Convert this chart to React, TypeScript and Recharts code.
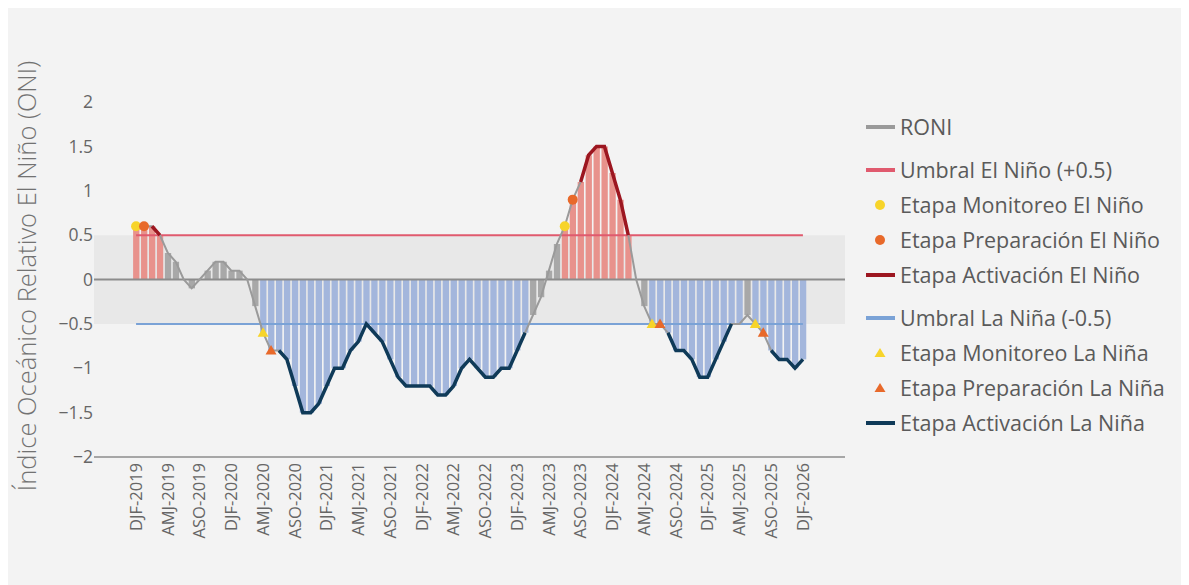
import React from "react";
import { ComposedChart, Bar, Line, XAxis, YAxis, ReferenceArea, ReferenceLine, Legend, Cell, Label } from "recharts";

const SEASONS = ["DJF", "JFM", "FMA", "MAM", "AMJ", "MJJ", "JJA", "JAS", "ASO", "SON", "OND", "NDJ"];
const YEARS = [2019, 2020, 2021, 2022, 2023, 2024, 2025, 2026];
const TICK_SEASONS = ["DJF", "AMJ", "ASO"];

const RONI = [
  0.6, 0.6, 0.6, 0.5, 0.3, 0.2, 0.0, -0.1, 0.0, 0.1, 0.2, 0.2,
  0.1, 0.1, 0.0, -0.3, -0.6, -0.8, -0.8, -0.9, -1.2, -1.5, -1.5, -1.4,
  -1.2, -1.0, -1.0, -0.8, -0.7, -0.5, -0.6, -0.7, -0.9, -1.1, -1.2, -1.2,
  -1.2, -1.2, -1.3, -1.3, -1.2, -1.0, -0.9, -1.0, -1.1, -1.1, -1.0, -1.0,
  -0.8, -0.6, -0.4, -0.2, 0.1, 0.4, 0.6, 0.9, 1.1, 1.4, 1.5, 1.5,
  1.2, 0.9, 0.5, 0.0, -0.3, -0.5, -0.5, -0.6, -0.8, -0.8, -0.9, -1.1,
  -1.1, -0.9, -0.7, -0.5, -0.5, -0.4, -0.5, -0.6, -0.8, -0.9, -0.9, -1.0,
  -0.9,
];

const UMBRAL_NINO = 0.5;
const UMBRAL_NINA = -0.5;

const MONITOREO_NINO = ["DJF-2019", "JJA-2023"];
const PREPARACION_NINO = ["JFM-2019", "JAS-2023"];
const ACTIVACION_NINO = [["FMA-2019", "MAM-2019"], ["ASO-2023", "FMA-2024"]];
const MONITOREO_NINA = ["AMJ-2020", "MJJ-2024", "JJA-2025"];
const PREPARACION_NINA = ["MJJ-2020", "JJA-2024", "JAS-2025"];
const ACTIVACION_NINA = [["JJA-2020", "JFM-2023"], ["JAS-2024", "MAM-2025"], ["ASO-2025", "DJF-2026"]];

const CATEGORIES = YEARS.flatMap((y) => SEASONS.map((s) => `${s}-${y}`)).slice(0, RONI.length);
const TICKS = CATEGORIES.map((c, i) => (TICK_SEASONS.includes(c.slice(0, 3)) ? i : -1)).filter((i) => i >= 0);

const inRanges = (i: number, ranges: string[][]) =>
  ranges.some(([a, b]) => i >= CATEGORIES.indexOf(a) && i <= CATEGORIES.indexOf(b));

const data = CATEGORIES.map((cat, i) => ({
  i,
  cat,
  roni: RONI[i],
  umbralNino: UMBRAL_NINO,
  umbralNina: UMBRAL_NINA,
  monNino: MONITOREO_NINO.includes(cat) ? RONI[i] : null,
  prepNino: PREPARACION_NINO.includes(cat) ? RONI[i] : null,
  actNino: inRanges(i, ACTIVACION_NINO) ? RONI[i] : null,
  monNina: MONITOREO_NINA.includes(cat) ? RONI[i] : null,
  prepNina: PREPARACION_NINA.includes(cat) ? RONI[i] : null,
  actNina: inRanges(i, ACTIVACION_NINA) ? RONI[i] : null,
}));

const C = {
  bg: "#f3f3f3",
  band: "#e8e8e8",
  axis: "#8c8c8c",
  text: "#666666",
  roni: "#9a9a9a",
  barRed: "#e8928c",
  barBlue: "#a3b6dc",
  barGray: "#a8a8a8",
  thNino: "#e05a6e",
  thNina: "#7aa2d6",
  yellow: "#f7d42a",
  orange: "#e8692a",
  actNino: "#9c1620",
  actNina: "#0f3a58",
};

const FONT = "'Open Sans', 'Noto Sans', sans-serif";

const LEGEND_ITEMS = [
  { label: "RONI", kind: "line", color: C.roni, group: 0 },
  { label: "Umbral El Niño (+0.5)", kind: "line", color: C.thNino, group: 1 },
  { label: "Etapa Monitoreo El Niño", kind: "circle", color: C.yellow, group: 1 },
  { label: "Etapa Preparación El Niño", kind: "circle", color: C.orange, group: 1 },
  { label: "Etapa Activación El Niño", kind: "line", color: C.actNino, group: 1 },
  { label: "Umbral La Niña (-0.5)", kind: "line", color: C.thNina, group: 2 },
  { label: "Etapa Monitoreo La Niña", kind: "triangle", color: C.yellow, group: 2 },
  { label: "Etapa Preparación La Niña", kind: "triangle", color: C.orange, group: 2 },
  { label: "Etapa Activación La Niña", kind: "line", color: C.actNina, group: 2 },
];

const LegendContent = () => (
  <svg width={330} height={350} style={{ display: "block" }}>
    {LEGEND_ITEMS.map((it, k) => {
      const y = 27 + k * 35 + it.group * 8;
      return (
        <g key={it.label}>
          {it.kind === "line" && <line x1={8} x2={37} y1={y} y2={y} stroke={it.color} strokeWidth={4} />}
          {it.kind === "circle" && <circle cx={22} cy={y} r={5} fill={it.color} />}
          {it.kind === "triangle" && (
            <polygon points={`22,${y - 5} 16.5,${y + 4} 27.5,${y + 4}`} fill={it.color} />
          )}
          <text x={42} y={y} dy="0.36em" fontSize={21.5} fill="#5a5a5a" fontFamily={FONT}>
            {it.label}
          </text>
        </g>
      );
    })}
  </svg>
);

const circleDot = (color: string) => (p: any) => {
  const { cx, cy, value, index } = p;
  if (value == null || cy == null || isNaN(cy)) return <g key={index} />;
  return <circle key={index} cx={cx} cy={cy} r={5} fill={color} />;
};

const triDot = (color: string) => (p: any) => {
  const { cx, cy, value, index } = p;
  if (value == null || cy == null || isNaN(cy)) return <g key={index} />;
  return <polygon key={index} points={`${cx},${cy - 5.5} ${cx - 5.5},${cy + 4} ${cx + 5.5},${cy + 4}`} fill={color} />;
};

const XTick = (p: any) => {
  const { x, y, payload } = p;
  return (
    <text
      x={x}
      y={y}
      transform={`rotate(-90 ${x} ${y})`}
      textAnchor="end"
      dy="0.35em"
      fontSize={16.5}
      fill={C.text}
      fontFamily={FONT}
    >
      {CATEGORIES[payload.value]}
    </text>
  );
};

const fmtY = (v: number) => (v < 0 ? `\u2212${Math.abs(v)}` : `${v}`);

export default function App() {
  return (
    <div style={{ width: 1181, height: 577, background: C.bg, position: "relative" }}>
      <ComposedChart
        width={1181}
        height={577}
        data={data}
        margin={{ top: 94, right: 344, bottom: 0, left: 0 }}
      >
        <ReferenceArea y1={UMBRAL_NINA} y2={UMBRAL_NINO} fill={C.band} fillOpacity={1} stroke="none" />
        <XAxis
          dataKey="i"
          type="number"
          domain={[-5.3, 89.3]}
          ticks={TICKS}
          interval={0}
          allowDataOverflow
          height={128}
          tickSize={0}
          tickMargin={6}
          tickLine={false}
          axisLine={{ stroke: C.axis, strokeWidth: 1.5 }}
          tick={<XTick />}
        />
        <YAxis
          type="number"
          domain={[-2, 2]}
          ticks={[-2, -1.5, -1, -0.5, 0, 0.5, 1, 1.5, 2]}
          width={86}
          tickSize={0}
          tickMargin={1}
          tickLine={false}
          axisLine={false}
          tickFormatter={fmtY}
          tick={{ fontSize: 17.5, fill: C.text, fontFamily: FONT }}
          label={
            <Label
              content={() => (
                <text
                  x={19}
                  y={268}
                  transform="rotate(-90 19 268)"
                  textAnchor="middle"
                  dy="0.35em"
                  fontSize={25.5}
                  fontWeight={300}
                  fill="#727272"
                  fontFamily={FONT}
                >
                  Índice Oceánico Relativo El Niño (ONI)
                </text>
              )}
            />
          }
        />
        <Bar dataKey="roni" barSize={6.3} isAnimationActive={false} legendType="none">
          {data.map((d) => (
            <Cell
              key={d.cat}
              fill={d.roni >= UMBRAL_NINO ? C.barRed : d.roni <= UMBRAL_NINA ? C.barBlue : C.barGray}
            />
          ))}
        </Bar>
        <ReferenceLine y={0} stroke={C.axis} strokeWidth={2} />
        <Line dataKey="umbralNino" stroke={C.thNino} strokeWidth={2} dot={false} activeDot={false} isAnimationActive={false} />
        <Line dataKey="umbralNina" stroke={C.thNina} strokeWidth={2} dot={false} activeDot={false} isAnimationActive={false} />
        <Line dataKey="roni" stroke={C.roni} strokeWidth={2} dot={false} activeDot={false} isAnimationActive={false} />
        <Line dataKey="actNino" stroke={C.actNino} strokeWidth={3.5} dot={false} activeDot={false} isAnimationActive={false} connectNulls={false} />
        <Line dataKey="actNina" stroke={C.actNina} strokeWidth={3.5} dot={false} activeDot={false} isAnimationActive={false} connectNulls={false} />
        <Line dataKey="monNino" stroke="none" dot={circleDot(C.yellow)} activeDot={false} isAnimationActive={false} />
        <Line dataKey="prepNino" stroke="none" dot={circleDot(C.orange)} activeDot={false} isAnimationActive={false} />
        <Line dataKey="monNina" stroke="none" dot={triDot(C.yellow)} activeDot={false} isAnimationActive={false} />
        <Line dataKey="prepNina" stroke="none" dot={triDot(C.orange)} activeDot={false} isAnimationActive={false} />
        <Legend
          content={<LegendContent />}
          layout="vertical"
          verticalAlign="middle"
          align="center"
          wrapperStyle={{ position: "absolute", left: 850, top: 92, width: 330, height: 350 }}
        />
      </ComposedChart>
    </div>
  );
}
